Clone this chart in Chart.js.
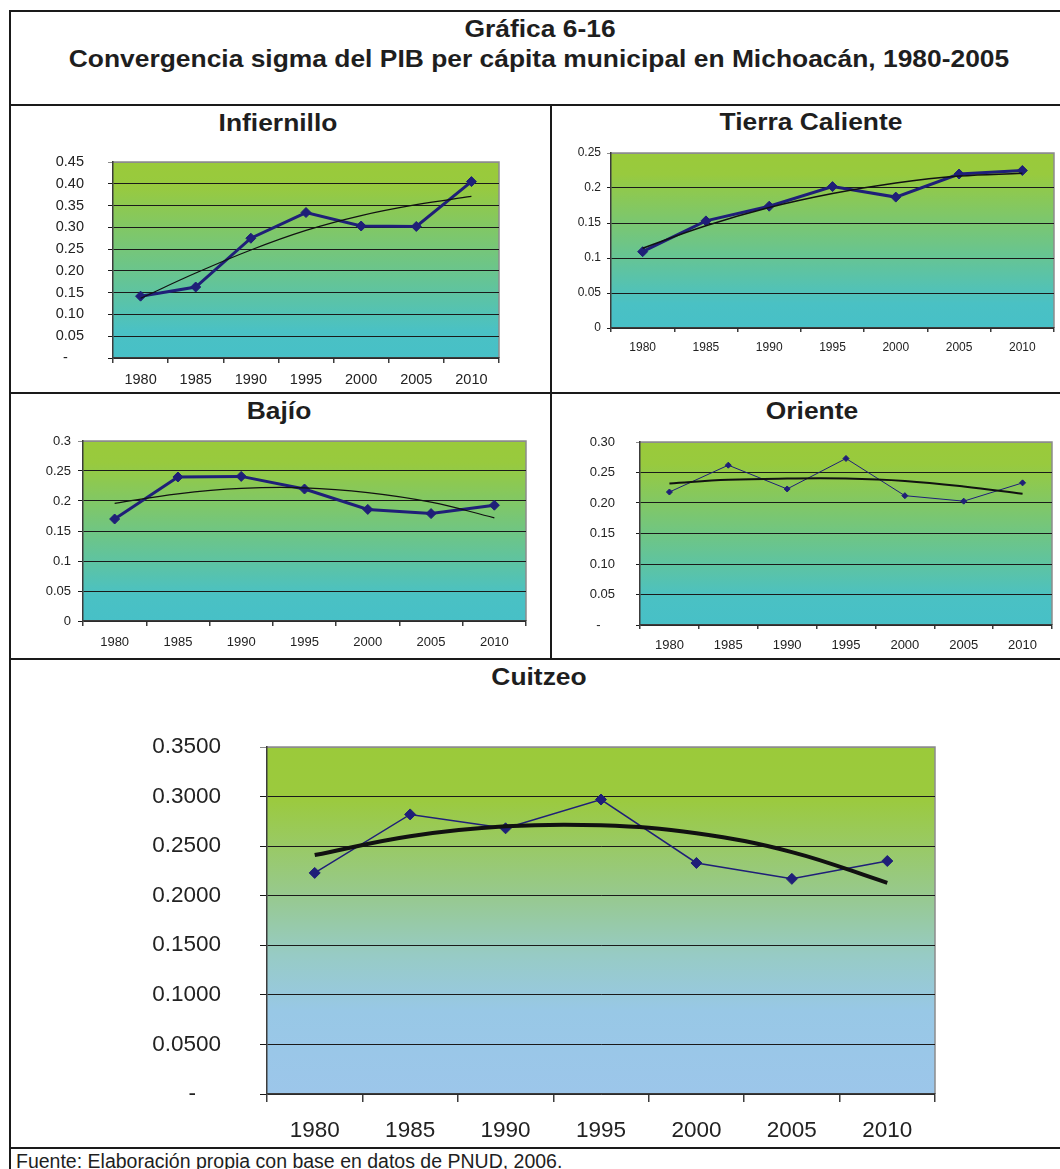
<!DOCTYPE html>
<html>
<head>
<meta charset="utf-8">
<script src="https://cdn.jsdelivr.net/npm/chart.js@4.4.1/dist/chart.umd.min.js"></script>
<style>
  body { margin: 0; background: #fff; width: 1060px; height: 1169px; overflow: hidden; position: relative;
         font-family: 'Liberation Sans', Arial, sans-serif; color: #1e1e1e; }
  .ln { position: absolute; background: #1a1a1a; z-index: 2; }
  .ttl { position: absolute; width: 1000px; text-align: center; font-weight: bold; font-size: 24px;
         line-height: 24px; white-space: nowrap; transform: scaleX(1.1); }
  .foot { position: absolute; left: 16px; top: 1151px; font-size: 19.5px; line-height: 20px; white-space: nowrap; }
  canvas { position: absolute; }
</style>
</head>
<body>
<!-- frame -->
<div class="ln" style="left:9px;top:10px;width:1051px;height:2px"></div>
<div class="ln" style="left:9px;top:10px;width:2px;height:1159px"></div>
<div class="ln" style="left:9px;top:104px;width:1051px;height:2px"></div>
<div class="ln" style="left:550px;top:105px;width:2px;height:554px"></div>
<div class="ln" style="left:9px;top:392px;width:1051px;height:2px"></div>
<div class="ln" style="left:9px;top:658px;width:1051px;height:2px"></div>
<div class="ln" style="left:9px;top:1147px;width:1051px;height:2px"></div>

<div class="ttl" style="left:40px;top:17px">Gráfica 6-16</div>
<div class="ttl" style="left:39px;top:47px">Convergencia sigma del PIB per cápita municipal en Michoacán, 1980-2005</div>
<div class="ttl" style="left:-222px;top:111px">Infiernillo</div>
<div class="ttl" style="left:311px;top:110px">Tierra Caliente</div>
<div class="ttl" style="left:-221px;top:399px">Bajío</div>
<div class="ttl" style="left:312px;top:399px">Oriente</div>
<div class="ttl" style="left:39px;top:665px">Cuitzeo</div>

<canvas id="infiernilloChart"></canvas>
<canvas id="tierraChart"></canvas>
<canvas id="bajioChart"></canvas>
<canvas id="orienteChart"></canvas>
<canvas id="cuitzeoChart"></canvas>

<div class="foot">Fuente: Elaboración propia con base en datos de PNUD, 2006.</div>

<script>
const years = ['1980', '1985', '1990', '1995', '2000', '2005', '2010'];

const infiernillo = [0.142, 0.163, 0.275, 0.334, 0.303, 0.302, 0.405];
const infiernilloTrend = [0.137, 0.195, 0.248, 0.293, 0.327, 0.352, 0.371];
const infiernilloTicks = ['-    ', '0.05', '0.10', '0.15', '0.20', '0.25', '0.30', '0.35', '0.40', '0.45'];

const tierraCaliente = [0.109, 0.153, 0.174, 0.202, 0.187, 0.220, 0.225];
const tierraCalienteTrend = [0.114, 0.146, 0.172, 0.192, 0.207, 0.217, 0.221];
const tierraCalienteTicks = ['0', '0.05', '0.1', '0.15', '0.2', '0.25'];

const bajio = [0.170, 0.240, 0.241, 0.220, 0.186, 0.179, 0.193];
const bajioTrend = [0.196, 0.212, 0.221, 0.222, 0.214, 0.198, 0.172];
const bajioTicks = ['0', '0.05', '0.1', '0.15', '0.2', '0.25', '0.3'];

const oriente = [0.218, 0.262, 0.223, 0.273, 0.212, 0.203, 0.233];
const orienteTrend = [0.232, 0.238, 0.240, 0.240, 0.236, 0.227, 0.215];
const orienteTicks = ['-    ', '0.05', '0.10', '0.15', '0.20', '0.25', '0.30'];

const cuitzeo = [0.223, 0.282, 0.268, 0.297, 0.233, 0.217, 0.235];
const cuitzeoTrend = [0.241, 0.260, 0.270, 0.271, 0.263, 0.244, 0.213];
const cuitzeoTicks = ['-    ', '0.0500', '0.1000', '0.1500', '0.2000', '0.2500', '0.3000', '0.3500'];

const tickStep = 0.05;
const navy = '#1f1f78';
const axisGray = '#3c3c3c';

// green to teal for the small panels, green to sky blue for Cuitzeo
const panelStops = [[0, '#9aca3a'], [0.12, '#98ca3e'], [0.86, '#4ac1c4'], [1, '#47c0c7']];
const cuitzeoStops = [[0, '#9bca3a'], [0.15, '#9bca3e'], [0.43, '#97c98f'], [0.6, '#97cbc5'], [0.76, '#98c8e6'], [1, '#9cc6ea']];

Chart.defaults.font.family = "'Liberation Sans', Arial, sans-serif";
Chart.defaults.color = '#222';

// narrow face for the big chart if the system has it
const probe = document.createElement('canvas').getContext('2d');
const probeWidth = f => { probe.font = f; return probe.measureText('0.3500 1980').width; };
const hasNarrow = probeWidth("25px 'Liberation Sans Narrow', monospace") !== probeWidth('25px monospace');
const bigFont = hasNarrow
  ? { family: "'Liberation Sans Narrow', 'Liberation Sans', sans-serif", size: 25 }
  : { family: "'Liberation Sans', sans-serif", size: 22.5 };

// gradient fill plus light top/right edge behind the grid
const plotFrame = {
  id: 'plotFrame',
  beforeDraw(chart, args, opts) {
    const { ctx, chartArea: a } = chart;
    const g = ctx.createLinearGradient(0, a.top, 0, a.bottom);
    opts.stops.forEach(([o, c]) => g.addColorStop(o, c));
    ctx.save();
    ctx.fillStyle = g;
    ctx.fillRect(a.left, a.top, a.right - a.left, a.bottom - a.top);
    ctx.strokeStyle = '#8c8c8c';
    ctx.lineWidth = 1.5;
    ctx.beginPath();
    ctx.moveTo(a.left, a.top);
    ctx.lineTo(a.right, a.top);
    ctx.lineTo(a.right, a.bottom);
    ctx.stroke();
    ctx.restore();
  }
};

const drawPanel = (id, box, values, trend, tickLabels, stops, look) => {
  const canvas = document.getElementById(id);
  canvas.width = box.width;
  canvas.height = box.height;
  canvas.style.left = box.left + 'px';
  canvas.style.top = box.top + 'px';
  canvas.style.width = box.width + 'px';
  canvas.style.height = box.height + 'px';

  const last = tickLabels.length - 1;

  new Chart(canvas, {
    type: 'line',
    data: {
      labels: years,
      datasets: [
        {
          data: trend,
          borderColor: '#111',
          borderWidth: look.trendWidth,
          pointRadius: 0,
          tension: 0.4,
          fill: false,
          order: 0,
        },
        {
          data: values,
          borderColor: navy,
          backgroundColor: navy,
          borderWidth: look.lineWidth,
          pointStyle: 'rectRot',
          pointRadius: look.marker,
          pointBorderWidth: 1,
          pointBorderColor: navy,
          pointBackgroundColor: navy,
          tension: 0,
          fill: false,
          order: 1,
        },
      ],
    },
    options: {
      responsive: false,
      animation: false,
      devicePixelRatio: 1,
      events: [],
      layout: { padding: { top: box.padTop, right: box.padRight, left: 0, bottom: 0 } },
      plugins: {
        legend: { display: false },
        tooltip: { enabled: false },
        plotFrame: { stops },
      },
      scales: {
        x: {
          offset: true,
          grid: { offset: true, drawOnChartArea: false, tickLength: look.xTick, color: axisGray, lineWidth: 1.5 },
          border: { color: axisGray, width: 1.5 },
          ticks: { font: look.font, padding: look.xPad, maxRotation: 0, autoSkip: false, color: '#222' },
          afterFit: s => { s.height = box.xAxis; },
        },
        y: {
          min: 0,
          max: tickStep * last,
          ticks: {
            stepSize: tickStep,
            autoSkip: false,
            font: look.font,
            padding: look.yPad,
            color: '#222',
            callback: (v, i) => tickLabels[i],
          },
          grid: {
            tickLength: look.yTick,
            lineWidth: 1,
            color: c => (c.index === last ? '#8c8c8c' : '#1a1a1a'),
          },
          border: { color: axisGray, width: 1.5 },
          // fixed axis width; the label gap must not push the plot down
          afterFit: s => {
            s.width = box.yAxis;
            s.paddingTop = 0;
            s.paddingBottom = 0;
          },
        },
      },
    },
    plugins: [plotFrame],
  });
};

drawPanel('infiernilloChart',
  { left: 30, top: 152, width: 479, height: 241, yAxis: 83, xAxis: 35, padTop: 10, padRight: 10 },
  infiernillo, infiernilloTrend, infiernilloTicks, panelStops,
  { font: { size: 14.5 }, lineWidth: 3, marker: 5, trendWidth: 1.2, xTick: 5, xPad: 8, yTick: 5, yPad: 24 });

drawPanel('tierraChart',
  { left: 560, top: 143, width: 500, height: 225, yAxis: 51, xAxis: 40, padTop: 10, padRight: 1 },
  tierraCaliente, tierraCalienteTrend, tierraCalienteTicks, panelStops,
  { font: { size: 12 }, lineWidth: 3, marker: 5, trendWidth: 1.5, xTick: 4, xPad: 8, yTick: 4, yPad: 6 });

drawPanel('bajioChart',
  { left: 20, top: 431, width: 516, height: 223, yAxis: 63, xAxis: 33, padTop: 10, padRight: 10 },
  bajio, bajioTrend, bajioTicks, panelStops,
  { font: { size: 13 }, lineWidth: 3, marker: 5, trendWidth: 1.2, xTick: 5, xPad: 9, yTick: 5, yPad: 7 });

drawPanel('orienteChart',
  { left: 570, top: 432, width: 489, height: 223, yAxis: 70, xAxis: 30, padTop: 10, padRight: 7 },
  oriente, orienteTrend, orienteTicks, panelStops,
  { font: { size: 13 }, lineWidth: 1, marker: 3, trendWidth: 2, xTick: 4, xPad: 9, yTick: 4, yPad: 21 });

drawPanel('cuitzeoChart',
  { left: 140, top: 730, width: 815, height: 416, yAxis: 127, xAxis: 52, padTop: 17, padRight: 20 },
  cuitzeo, cuitzeoTrend, cuitzeoTicks, cuitzeoStops,
  { font: bigFont, lineWidth: 1.5, marker: 5.5, trendWidth: 4, xTick: 8, xPad: 15, yTick: 7, yPad: 39 });
</script>
</body>
</html>
